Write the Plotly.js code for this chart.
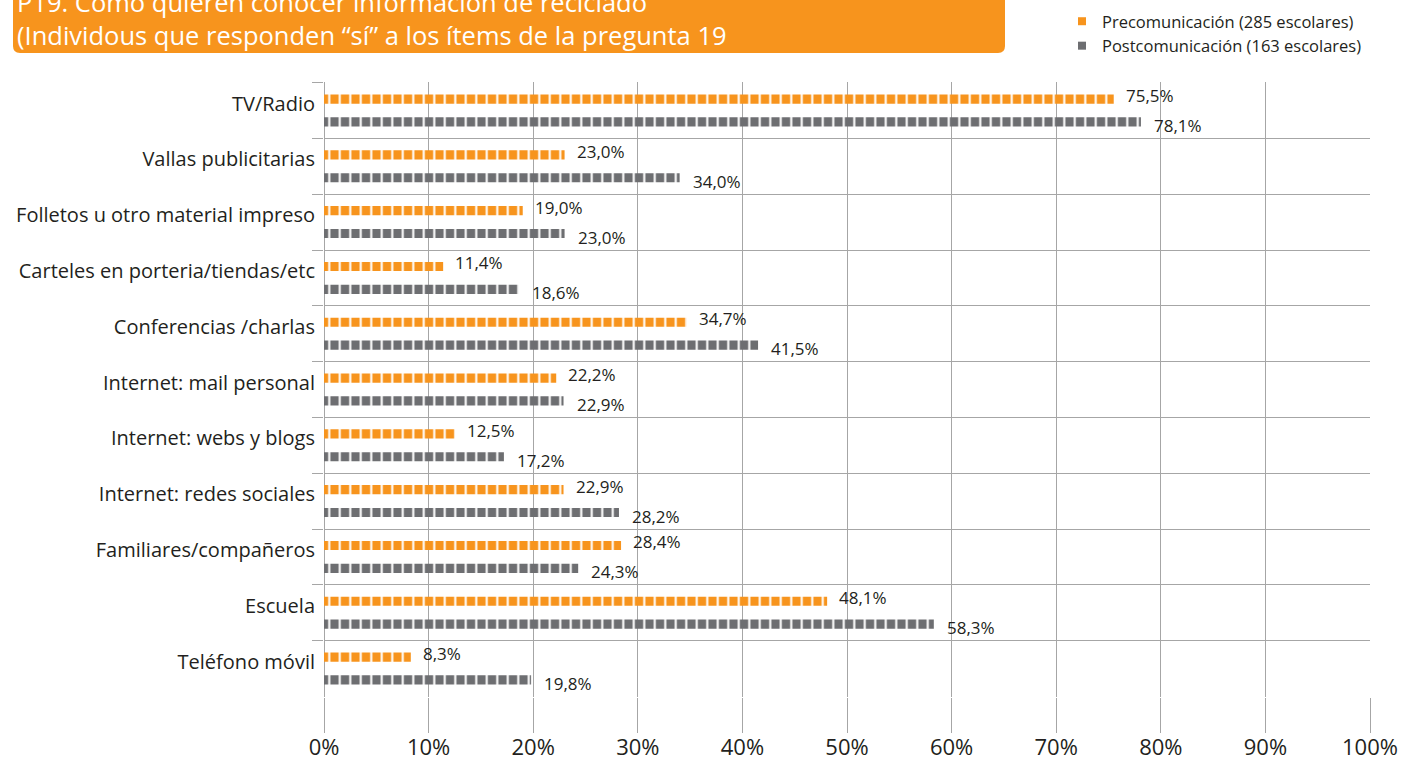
<!DOCTYPE html>
<html>
<head>
<meta charset="utf-8">
<script src="https://cdn.plot.ly/plotly-3.0.1.min.js"></script>
<style>
html,body{margin:0;padding:0;background:#fff;}
#chart{width:1406px;height:760px;}
</style>
</head>
<body>
<div id="chart"></div>
<script>
const categories = [
  "TV/Radio",
  "Vallas publicitarias",
  "Folletos u otro material impreso",
  "Carteles en porteria/tiendas/etc",
  "Conferencias /charlas",
  "Internet: mail personal",
  "Internet: webs y blogs",
  "Internet: redes sociales",
  "Familiares/compañeros",
  "Escuela",
  "Teléfono móvil"
];
const preValues  = [75.5, 23.0, 19.0, 11.4, 34.7, 22.2, 12.5, 22.9, 28.4, 48.1, 8.3];
const postValues = [78.1, 34.0, 23.0, 18.6, 41.5, 22.9, 17.2, 28.2, 24.3, 58.3, 19.8];
const preName  = "Precomunicación (285 escolares)";
const postName = "Postcomunicación (163 escolares)";
const tickValues = [0,10,20,30,40,50,60,70,80,90,100];
const tickLabels = ["0%","10%","20%","30%","40%","50%","60%","70%","80%","90%","100%"];
const titleLine1 = "P19. Cómo quieren conocer información de reciclado";
const titleLine2 = "(Individous que responden “sí” a los ítems de la pregunta 19";

const ORANGE = "#f7941d";
const GRAY = "#6d6e71";
const FONT = "'Open Sans', Lato, sans-serif";
const fmt = v => v.toFixed(1).replace(".", ",") + "%";

function barTrace(name, values, color) {
  return {
    type: "bar",
    orientation: "h",
    name: name,
    x: values,
    y: categories,
    showlegend: false,
    marker: {
      color: color,
      line: {width: 0},
      pattern: {shape: "|", fgcolor: "#ffffff", bgcolor: color, size: 10.5, solidity: 0.2, fillmode: "replace"}
    },
    hoverinfo: "x+name"
  };
}
function legendTrace(name, color) {
  return {
    type: "scatter", mode: "markers", name: name,
    x: [null], y: [null],
    marker: {symbol: "square", size: 8, color: color},
    hoverinfo: "skip"
  };
}

const traces = [
  barTrace(preName, preValues, ORANGE),
  barTrace(postName, postValues, GRAY),
  legendTrace(preName, ORANGE),
  legendTrace(postName, GRAY)
];

const annotations = [];
categories.forEach((c, i) => {
  annotations.push({x: preValues[i], y: c, xref: "x", yref: "y", text: fmt(preValues[i]),
    showarrow: false, xanchor: "left", yanchor: "middle", xshift: 10, yshift: 15,
    font: {family: FONT, size: 17, color: "#231f20"}});
  annotations.push({x: postValues[i], y: c, xref: "x", yref: "y", text: fmt(postValues[i]),
    showarrow: false, xanchor: "left", yanchor: "middle", xshift: 11, yshift: -15,
    font: {family: FONT, size: 17, color: "#231f20"}});
});

// title box (paper coords), rounded corners
const L = 324, R = 1370, T = 82, B = 697;
const px = p => (p - L) / (R - L);
const py = p => (B - p) / (B - T);
const x0 = px(13), x1 = px(1005), y0 = py(53), y1 = py(-30);
const rx = 7 / (R - L), ry = 7 / (B - T);
const boxPath = `M ${x0} ${y1} L ${x1} ${y1} L ${x1} ${y0 + ry} Q ${x1} ${y0} ${x1 - rx} ${y0} L ${x0 + rx} ${y0} Q ${x0} ${y0} ${x0} ${y0 + ry} Z`;

annotations.push({xref: "paper", yref: "paper", x: px(15), y: py(2), text: titleLine1,
  showarrow: false, xanchor: "left", yanchor: "middle",
  font: {family: FONT, size: 25.5, color: "#ffffff"}});
annotations.push({xref: "paper", yref: "paper", x: px(15), y: py(35), text: titleLine2,
  showarrow: false, xanchor: "left", yanchor: "middle",
  font: {family: FONT, size: 25.5, color: "#ffffff"}});

const layout = {
  width: 1406, height: 760,
  margin: {l: L, r: 1406 - R, t: T, b: 760 - B, autoexpand: false},
  paper_bgcolor: "#ffffff", plot_bgcolor: "#ffffff",
  barmode: "group", bargap: 0.18, bargroupgap: 0.6,
  font: {family: FONT, color: "#231f20"},
  showlegend: true,
  legend: {x: px(1062), y: py(4), xanchor: "left", yanchor: "top",
    font: {family: FONT, size: 16.5, color: "#231f20"}, bgcolor: "rgba(0,0,0,0)",
    itemwidth: 30, tracegroupgap: 0},
  xaxis: {
    range: [0, 100], tickvals: tickValues, ticktext: tickLabels,
    showgrid: true, gridcolor: "#a6a6a6", gridwidth: 1,
    zeroline: true, zerolinecolor: "#a6a6a6", zerolinewidth: 1,
    ticks: "outside", ticklen: 35, tickcolor: "#a6a6a6", tickwidth: 1,
    ticklabelstandoff: -4,
    tickfont: {family: FONT, size: 22, color: "#231f20"},
    showline: false, fixedrange: true
  },
  yaxis: {
    type: "category", categoryorder: "array", categoryarray: categories,
    autorange: "reversed", tickson: "boundaries",
    showgrid: true, gridcolor: "#a6a6a6", gridwidth: 1,
    ticks: "outside", ticklen: 11, tickcolor: "#a6a6a6", tickwidth: 1,
    ticklabelstandoff: 8, ticklabelshift: 7,
    tickfont: {family: FONT, size: 20, color: "#231f20"},
    showline: false, zeroline: false, fixedrange: true
  },
  shapes: [{type: "path", xref: "paper", yref: "paper", path: boxPath,
    fillcolor: ORANGE, line: {width: 0}, layer: "above"}],
  annotations: annotations
};

Plotly.newPlot("chart", traces, layout, {displayModeBar: false, staticPlot: true});
</script>
</body>
</html>
